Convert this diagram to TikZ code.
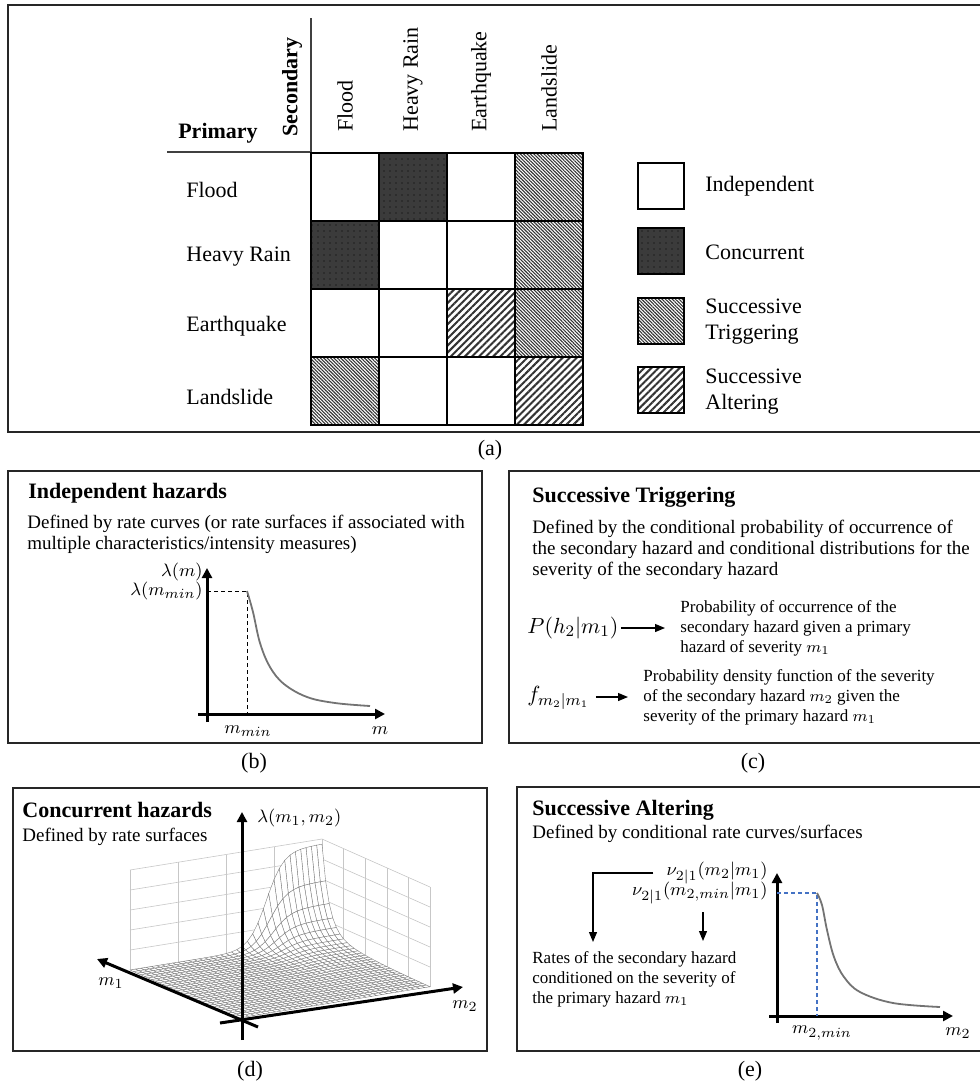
\documentclass[tikz,border=0pt]{standalone}
\usepackage{fontspec}
\setmainfont{Liberation Serif}
\usetikzlibrary{arrows.meta,patterns.meta}
\definecolor{dashblue}{RGB}{68,114,196}
\newcommand{\lab}{\fontsize{11}{13}\selectfont}
\newcommand{\bodytxt}{\fontsize{9.5}{10.6}\selectfont}
\newcommand{\notetxt}{\fontsize{8.5}{10}\selectfont}
\newcommand{\mathlab}{\fontsize{9.5}{11}\selectfont}

\begin{document}
\begin{tikzpicture}[x=0.5pt, y=-0.5pt, every node/.style={inner sep=0pt, font=\lab},
  panel/.style={draw=black!85, line width=1.1pt},
  cell/.style={draw=black, line width=0.8pt, minimum size=34pt, outer sep=0pt},
  legbox/.style={minimum size=23pt},
  indep/.style={cell, fill=white},
  concur/.style={cell, preaction={fill=black!77}, pattern={Dots[distance=3pt, radius=0.3pt]}, pattern color=black},
  trig/.style={cell, preaction={fill=white}, pattern={Lines[angle=-45, distance=1.2pt, line width=0.55pt]}, pattern color=black!80},
  alter/.style={cell, preaction={fill=white}, pattern={Lines[angle=45, distance=2.5pt, line width=1pt]}, pattern color=black!80},
  title/.style={anchor=west, font=\lab\bfseries},
  body/.style={anchor=west, align=left, font=\bodytxt},
  note/.style={anchor=west, align=left, font=\notetxt},
  axis/.style={line width=1.5pt, -{Triangle[length=5pt, width=5pt]}},
  thinarrow/.style={line width=0.6pt, -{Triangle[length=5pt, width=4pt]}},
  curve/.style={black!55, line width=0.9pt},
  guide/.style={line width=0.5pt, dash pattern=on 2pt off 1.5pt},
  wall/.style={black!22, line width=0.3pt},
  mesh/.style={fill=white, draw=black!50, line width=0.2pt},
  declare function={
    sg(\vv)=exp(max(-9,22*(\vv-0.71)))/(1+exp(max(-9,22*(\vv-0.71))));
    dk(\uu)=0.85*exp(max(-9,-16*(1-\uu)))+0.15*exp(-4*(1-\uu));
    zs(\uu,\vv)=95*sg(\vv)*dk(\uu);
    px(\uu,\vv)=238-108*\uu+192*\vv;
    py(\uu,\vv)=1018-48*\uu-31*\vv-zs(\uu,\vv);
  }]
\useasboundingbox (0,0) rectangle (980,1083);

% (a) interaction matrix
\draw[panel] (8,5) rectangle (986,432);
\draw[black!75, line width=0.7pt] (167,152) -- (311,152);
\draw[black!75, line width=0.7pt] (311,18) -- (311,153);
\node[font=\lab\bfseries] (prim) at (218,133) {Primary};
\node[font=\lab\bfseries, rotate=90, anchor=west] (sec) at (292,137) {Secondary};
\foreach \name [count=\k from 0] in {Flood,Heavy Rain,Earthquake,Landslide}
  \node[rotate=90, anchor=west] (col\k) at ({345+68*\k},132) {\name};
\node[anchor=west] (row0) at (186,190) {Flood};
\node[anchor=west] (row1) at (186,257) {Heavy Rain};
\node[anchor=west] (row2) at (186,326) {Earthquake};
\node[anchor=west] (row3) at (186,397) {Landslide};
\foreach \st [count=\k from 0] in {indep,concur,indep,trig,concur,indep,indep,trig,indep,indep,alter,trig,trig,indep,indep,alter}{
  \pgfmathtruncatemacro\rr{\k/4}
  \pgfmathtruncatemacro\cc{\k-4*\rr}
  \node[\st] (cell\rr\cc) at ({345+68*\cc},{187+68*\rr}) {};
}
% legend
\node[indep, legbox] (lg0) at (661,186) {};
\node[concur, legbox] (lg1) at (661,251) {};
\node[trig, legbox] (lg2) at (661,321) {};
\node[alter, legbox] (lg3) at (661,390) {};
\node[anchor=west] (lt0) at (705,186) {Independent};
\node[anchor=west] (lt1) at (705,252) {Concurrent};
\node[anchor=west, align=left] (lt2) at (705,322) {Successive\\Triggering};
\node[anchor=west, align=left] (lt3) at (705,392) {Successive\\Altering};
\node (capa) at (490,450) {(a)};

% (b) independent hazards
\draw[panel] (8,471) rectangle (482,743);
\node[title] (tb) at (28,493) {Independent hazards};
\node[body] (db) at (27,534) {Defined by rate curves (or rate surfaces if associated with\\multiple characteristics/intensity measures)};
\coordinate (yb0) at (207,722); \coordinate (yb1) at (207,568);
\coordinate (xb0) at (198,714); \coordinate (xb1) at (385,714);
\draw[axis] (yb0) -- (yb1);
\draw[axis] (xb0) -- (xb1);
\draw[guide] (207,591) -- (247,591) -- (247,714);
\draw[curve] plot[smooth, tension=0.6] coordinates {(247,591) (253,612) (260,643) (270,667) (284,684) (307,697) (335,703) (370,706)};
\node[anchor=east, font=\mathlab] (lb1) at (203,572) {$\lambda(m)$};
\node[anchor=east, font=\mathlab] (lb2) at (203,591) {$\lambda(m_{min})$};
\node[font=\mathlab] (mb1) at (248,731) {$m_{min}$};
\node[font=\mathlab] (mb2) at (380,731) {$m$};
\node (capb) at (254,763) {(b)};

% (c) successive triggering
\draw[panel] (509,471) rectangle (986,743);
\node[title] (tc) at (532,497) {Successive Triggering};
\node[body] (dc) at (532,550) {Defined by the conditional probability of occurrence of\\the secondary hazard and conditional distributions for the\\severity of the secondary hazard};
\node[anchor=west] (ph) at (527,628) {$P(h_2|m_1)$};
\node[note] (phtxt) at (680,628) {Probability of occurrence of the\\secondary hazard given a primary\\hazard of severity $m_1$};
\node[anchor=west] (fm) at (527,698) {$f_{m_2|m_1}$};
\node[note] (fmtxt) at (643,697) {Probability density function of the severity\\of the secondary hazard $m_2$ given the\\severity of the primary hazard $m_1$};
\draw[thinarrow] ([xshift=1pt]ph.east) -- ([xshift=-7.5pt]ph.east -| phtxt.west);
\draw[thinarrow] ([xshift=3pt]fm.east |- fmtxt.west) -- ([xshift=-7.5pt]fmtxt.west);
\node (capc) at (753,763) {(c)};

% (d) concurrent hazards
\draw[panel] (13,788) rectangle (487,1051);
\node[title] (td) at (22,810) {Concurrent hazards};
\node[body] (dd) at (22,837) {Defined by rate surfaces};
% back walls
\foreach \i in {0,...,4} \draw[wall] ({130+48*\i},{970-7.75*\i}) -- ++(0,-100);
\foreach \j in {0,...,5} \draw[wall] (130,{970-20*\j}) -- (322,{939-20*\j});
\foreach \i in {0,...,5} \draw[wall] ({322+21.6*\i},{939+9.6*\i}) -- ++(0,-100);
\foreach \j in {0,...,5} \draw[wall] (322,{939-20*\j}) -- (430,{987-20*\j});
% rate surface, back to front
\foreach \i in {29,28,...,0}{
  \foreach \j in {35,34,...,0}{
    \pgfmathsetmacro\ua{\i/30}\pgfmathsetmacro\ub{(\i+1)/30}
    \pgfmathsetmacro\va{\j/36}\pgfmathsetmacro\vb{(\j+1)/36}
    \draw[mesh] ({px(\ua,\va)},{py(\ua,\va)}) -- ({px(\ub,\va)},{py(\ub,\va)}) -- ({px(\ub,\vb)},{py(\ub,\vb)}) -- ({px(\ua,\vb)},{py(\ua,\vb)}) -- cycle;
  }
}
\coordinate (zd0) at (242,1040); \coordinate (zd1) at (242,812);
\coordinate (m1d0) at (258,1027); \coordinate (m1d1) at (97,959);
\coordinate (m2d0) at (220,1023); \coordinate (m2d1) at (463,987);
\draw[axis] (zd0) -- (zd1);
\draw[axis] (m1d0) -- (m1d1);
\draw[axis] (m2d0) -- (m2d1);
\node[anchor=west, font=\mathlab] (lamd) at (257,818) {$\lambda(m_1,m_2)$};
\node[font=\mathlab] (md1) at (111,983) {$m_1$};
\node[font=\mathlab] (md2) at (465,1006) {$m_2$};
\node (capd) at (250,1071) {(d)};

% (e) successive altering
\draw[panel] (517,787) rectangle (986,1051);
\node[title] (te) at (532,810) {Successive Altering};
\node[body] (de) at (532,834) {Defined by conditional rate curves/surfaces};
\node[anchor=east, font=\mathlab] (nu) at (768,873) {$\nu_{2|1}(m_2|m_1)$};
\node[anchor=east, font=\mathlab] (numin) at (768,893) {$\nu_{2|1}(m_{2,min}|m_1)$};
\node[note] (rates) at (532,979) {Rates of the secondary hazard\\conditioned on the severity of\\the primary hazard $m_1$};
\coordinate (ra) at (593,942);
\coordinate (rb0) at (703,912); \coordinate (rb1) at (703,941);
\draw[thinarrow] ([xshift=-6.5pt]nu.west) -| (ra);
\draw[thinarrow] (rb0) -- (rb1);
\coordinate (ye0) at (777,1023); \coordinate (ye1) at (777,873);
\coordinate (xe0) at (769,1016); \coordinate (xe1) at (953,1016);
\draw[axis] (ye0) -- (ye1);
\draw[axis] (xe0) -- (xe1);
\draw[guide, draw=dashblue, line width=0.6pt] (777,893) -- (817,893) -- (817,1016);
\draw[curve] plot[smooth, tension=0.6] coordinates {(817,893) (822,905) (827,930) (834,957) (844,977) (860,992) (893,1003) (940,1007)};
\node[font=\mathlab] (me1) at (822,1033) {$m_{2,min}$};
\node[font=\mathlab] (me2) at (958,1033) {$m_2$};
\node (cape) at (750,1071) {(e)};
\end{tikzpicture}
\end{document}
